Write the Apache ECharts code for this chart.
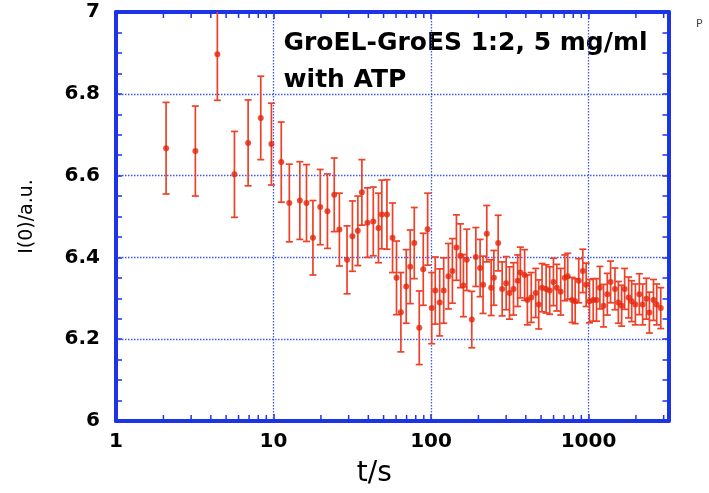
<!DOCTYPE html>
<html><head><meta charset="utf-8">
<script src="https://cdn.jsdelivr.net/npm/echarts@6/dist/echarts.min.js"></script>
<style>html,body{margin:0;padding:0;background:#fff}#c{width:709px;height:493px}</style>
</head><body><div id="c"></div>
<script>
// ---- data ----
const times = [2.08,3.19,4.4,5.65,6.9,8.3,9.7,11.2,12.6,14.7,16.2,17.8,19.8,22.0,24.3,26.2,
  29.3,31.7,34.3,36.4,39.5,43,46.4,48.7,52.5,57,60.4,64.4,69.6,73.8,78.3,84.2,89.3,95.2,
  101,106.4,113.5,120.4,129,136.7,145,153.7,160.6,168.7,181.5,192.6,205,214,226,241,250.6,267,
  283,300,315,334,355,369,393,409,433,462,483,507,538,567,599,629,666,707,738,787,823,867,920,966,
  1015,1071,1124,1181,1246,1316,1381,1472,1547,1623,1696,1797,1880,1984,2102,2207,2330,2435,2585,2711,2875];
const intensity = [6.667,6.660,6.897,6.603,6.680,6.741,6.677,6.633,6.533,6.539,6.533,6.448,6.523,6.513,6.553,6.468,
  6.394,6.452,6.465,6.559,6.485,6.488,6.472,6.505,6.505,6.448,6.350,6.266,6.329,6.377,6.435,6.228,6.371,6.469,
  6.276,6.319,6.290,6.319,6.354,6.367,6.424,6.404,6.331,6.394,6.248,6.401,6.374,6.333,6.458,6.326,6.350,6.435,
  6.323,6.337,6.313,6.323,6.343,6.363,6.357,6.296,6.302,6.313,6.285,6.326,6.323,6.319,6.340,6.326,6.316,6.350,6.354,6.296,6.293,6.343,6.367,6.333,
  6.293,6.296,6.296,6.326,6.282,6.310,6.340,6.323,6.290,6.282,6.323,6.302,6.293,6.285,6.310,6.285,6.299,6.265,6.296,6.285,6.276];
const errors = [0.112,0.110,0.113,0.105,0.105,0.102,0.100,0.098,0.095,0.095,0.094,0.091,0.092,0.091,0.090,0.089,
  0.083,0.086,0.085,0.080,0.085,0.084,0.085,0.084,0.085,0.085,0.090,0.097,0.090,0.090,0.087,0.090,0.088,0.088,
  0.087,0.082,0.082,0.080,0.080,0.079,0.080,0.078,0.076,0.075,0.069,0.072,0.070,0.070,0.069,0.068,0.067,0.068,
  0.066,0.065,0.064,0.064,0.063,0.062,0.062,0.061,0.061,0.060,0.060,0.059,0.059,0.058,0.058,0.057,0.057,0.056,0.056,0.055,0.055,0.054,0.053,0.053,
  0.053,0.052,0.052,0.052,0.052,0.051,0.051,0.051,0.051,0.050,0.050,0.050,0.050,0.050,0.050,0.050,0.050,0.050,0.050,0.050,0.050];
const minorTicksX = [2,3,4,5,6,7,8,9,20,30,40,50,60,70,80,90,200,300,400,500,600,700,800,900,2000,3000];
const titleLines = ['GroEL-GroES 1:2, 5 mg/ml', 'with ATP'];
const xName = 't/s';
const yName = 'I(0)/a.u.';

// ---- style ----
const BLUE = '#1c33e6', GRIDC = '#3d58ea', ERR = '#ee4128', PT = '#e3260c', FONT = 'DejaVu Sans';
const X_MIN = 1, X_MAX = 3220, Y_MIN = 6, Y_MAX = 7;

const chart = echarts.init(document.getElementById('c'), null, {renderer: 'canvas'});
const pts = times.map((t, i) => [t, intensity[i]]);
const bars = times.map((t, i) => [t, intensity[i] - errors[i], intensity[i] + errors[i]]);
const minorData = minorTicksX.map(t => [t, 6.5]);

const isPow10 = v => { const l = Math.log10(v); return Math.abs(l - Math.round(l)) < 1e-6; };
const dotted = {color: GRIDC, width: 1.3, type: [1.5, 1.5]};

chart.setOption({
  animation: false,
  backgroundColor: '#fff',
  grid: {left: 116, top: 12, right: 40.5, bottom: 70.5, show: false},
  xAxis: [{
    type: 'log', logBase: 10, min: X_MIN, max: X_MAX, position: 'bottom',
    axisLine: {show: true, onZero: false, lineStyle: {color: BLUE, width: 4}},
    axisTick: {show: true, inside: true, length: 7, lineStyle: {color: BLUE, width: 1.5}},
    minorTick: {show: false},
    axisLabel: {fontFamily: FONT, fontWeight: 'bold', fontSize: 20, color: '#000', margin: 11,
      showMaxLabel: false,
      formatter: v => isPow10(v) ? String(Math.round(v)) : ''},
    splitLine: {show: true, showMinLine: false, showMaxLine: false, lineStyle: dotted},
    name: xName, nameLocation: 'middle', nameGap: 39,
    nameTextStyle: {fontFamily: FONT, fontSize: 28, color: '#000', padding: [0, 36, 0, 0]}
  }, {
    type: 'log', logBase: 10, min: X_MIN, max: X_MAX, position: 'top',
    axisLine: {show: true, onZero: false, lineStyle: {color: BLUE, width: 4}},
    axisTick: {show: true, inside: true, length: 7, lineStyle: {color: BLUE, width: 1.5}},
    axisLabel: {show: false}, splitLine: {show: false}
  }],
  yAxis: [{
    type: 'value', min: Y_MIN, max: Y_MAX, interval: 0.2, position: 'left',
    axisLine: {show: true, onZero: false, lineStyle: {color: BLUE, width: 4}},
    axisTick: {show: true, inside: true, length: 6, lineStyle: {color: BLUE, width: 1.5}},
    minorTick: {show: true, splitNumber: 4, length: 6, lineStyle: {color: BLUE, width: 1.5}},
    axisLabel: {fontFamily: FONT, fontWeight: 'bold', fontSize: 20, color: '#000', margin: 16},
    splitLine: {show: true, showMinLine: false, showMaxLine: false, lineStyle: dotted},
    name: yName, nameLocation: 'middle', nameGap: 79, nameRotate: 90,
    nameTextStyle: {fontFamily: FONT, fontSize: 19, color: '#000'}
  }, {
    type: 'value', min: Y_MIN, max: Y_MAX, interval: 0.2, position: 'right',
    axisLine: {show: true, onZero: false, lineStyle: {color: BLUE, width: 4}},
    axisTick: {show: true, inside: true, length: 6, lineStyle: {color: BLUE, width: 1.5}},
    minorTick: {show: true, splitNumber: 4, length: 6, lineStyle: {color: BLUE, width: 1.5}},
    axisLabel: {show: false}, splitLine: {show: false}
  }],
  series: [{
    type: 'custom', name: 'minorTicks', xAxisIndex: 0, yAxisIndex: 0, silent: true, z: 3,
    data: minorData, encode: {x: 0, y: 1},
    renderItem: (params, api) => {
      const t = api.value(0);
      const b = api.coord([t, Y_MIN]), tp = api.coord([t, Y_MAX]);
      const st = {stroke: BLUE, lineWidth: 1.5};
      return {type: 'group', children: [
        {type: 'line', shape: {x1: b[0], y1: b[1], x2: b[0], y2: b[1] - 6}, style: st},
        {type: 'line', shape: {x1: tp[0], y1: tp[1], x2: tp[0], y2: tp[1] + 6}, style: st}
      ]};
    }
  }, {
    type: 'custom', name: 'errors', xAxisIndex: 0, yAxisIndex: 0, clip: true, z: 4,
    data: bars, encode: {x: 0, y: [1, 2]},
    renderItem: (params, api) => {
      const x = api.value(0), lo = api.value(1), hi = api.value(2);
      const p1 = api.coord([x, lo]), p2 = api.coord([x, hi]);
      const w = 3.5, st = {stroke: ERR, lineWidth: 1.7};
      return {type: 'group', children: [
        {type: 'line', shape: {x1: p1[0], y1: p1[1], x2: p2[0], y2: p2[1]}, style: st},
        {type: 'line', shape: {x1: p1[0] - w, y1: p1[1], x2: p1[0] + w, y2: p1[1]}, style: st},
        {type: 'line', shape: {x1: p2[0] - w, y1: p2[1], x2: p2[0] + w, y2: p2[1]}, style: st}
      ]};
    }
  }, {
    type: 'scatter', name: 'I0', xAxisIndex: 0, yAxisIndex: 0, z: 5,
    data: pts, symbol: 'circle', symbolSize: 6,
    itemStyle: {color: PT}
  }],
  graphic: [
    {type: 'text', left: 283.5, top: 31, style: {text: titleLines[0], font: 'bold 25px "DejaVu Sans"', fill: '#000'}},
    {type: 'text', left: 283.5, top: 67.5, style: {text: titleLines[1], font: 'bold 25px "DejaVu Sans"', fill: '#000'}},
    {type: 'text', left: 696, top: 19, style: {text: 'P', font: '11px "DejaVu Sans"', fill: '#444'}}
  ]
});
</script>
</body></html>
